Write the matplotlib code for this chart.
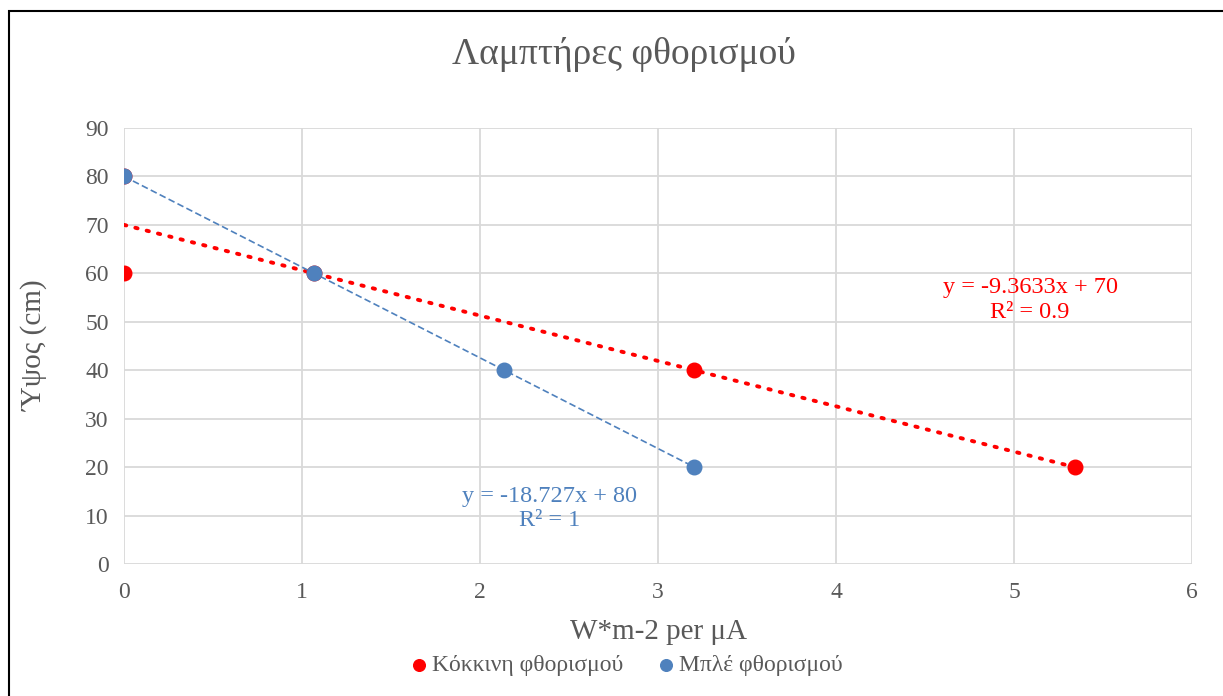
import numpy as np
import matplotlib.pyplot as plt
from matplotlib.patches import Rectangle

plt.rcParams['font.family'] = ['Liberation Serif', 'DejaVu Serif']

# data (x in W*m-2 per uA, y in cm)
red_x = [0, 0, 1.068, 3.204, 5.34]
red_y = [80, 60, 60, 40, 20]
blue_x = [0, 1.068, 2.136, 3.204]
blue_y = [80, 60, 40, 20]

red_name = 'Κόκκινη φθορισμού'
blue_name = 'Μπλέ φθορισμού'
red_eq = 'y = -9.3633x + 70\nR² = 0.9'
blue_eq = 'y = -18.727x + 80\nR² = 1'

RED = '#FF0000'
BLUE = '#4F81BD'
GRAY = '#595959'

fig = plt.figure(figsize=(12.23, 6.96), dpi=100)
ax = fig.add_axes([0.1014, 0.1897, 0.8733, 0.6264])

# outer border (only left and top visible in the screenshot)
fig.patches.append(Rectangle((9/1223, -0.1), 1.2, 1.1 - 11/696, transform=fig.transFigure,
                             fill=False, edgecolor='black', linewidth=1.5))

ax.scatter(red_x, red_y, s=110, color=RED, zorder=3, label=red_name)
ax.scatter(blue_x, blue_y, s=110, color=BLUE, zorder=4, label=blue_name)

# linear trendlines
rk, rb = np.polyfit(red_x, red_y, 1)
bk, bb = np.polyfit(blue_x, blue_y, 1)
xr = np.array([min(red_x), max(red_x)])
xb = np.array([min(blue_x), max(blue_x)])
ax.plot(xr, rk * xr + rb, color=RED, linestyle=(0, (0.6, 2.4)), linewidth=2.8,
        dash_capstyle='round', zorder=2)
ax.plot(xb, bk * xb + bb, color=BLUE, linestyle=(0, (4, 2)), linewidth=1.2, zorder=2)

ax.text(5.09, 54.5, red_eq, color=RED, fontsize=17.5, ha='center', va='center', linespacing=1.2)
ax.text(2.39, 11.5, blue_eq, color=BLUE, fontsize=17.5, ha='center', va='center', linespacing=1.2)

ax.set_xlim(0, 6)
ax.set_ylim(0, 90)
ax.set_xticks(range(0, 7))
ax.set_yticks(range(0, 91, 10))
ax.grid(True, color='#D9D9D9', linewidth=1.3)
ax.set_axisbelow(True)
for s in ax.spines.values():
    s.set_visible(False)
ax.tick_params(length=0, labelsize=17, labelcolor=GRAY)
ax.tick_params(axis='x', pad=13)
ax.tick_params(axis='y', pad=11)

fig.text(624/1223, 1 - 55/696, 'Λαμπτήρες φθορισμού', fontsize=27, color=GRAY,
         ha='center', va='center')
ax.set_xlabel('W*m-2 per μA', fontsize=21, color=GRAY, va='center')
ax.xaxis.set_label_coords(0.5, -68/436)
ax.set_ylabel('Ύψος (cm)', fontsize=21, color=GRAY, va='center')
ax.yaxis.set_label_coords(-89/1068, 0.5)

fig.legend(loc='center', bbox_to_anchor=(619/1223, 1 - 665/696), ncol=2, frameon=False,
           fontsize=17, handletextpad=-0.45, columnspacing=0.8, labelcolor=GRAY,
           markerscale=0.8, borderpad=0)

fig.savefig('out.png', dpi=100, facecolor='white')
